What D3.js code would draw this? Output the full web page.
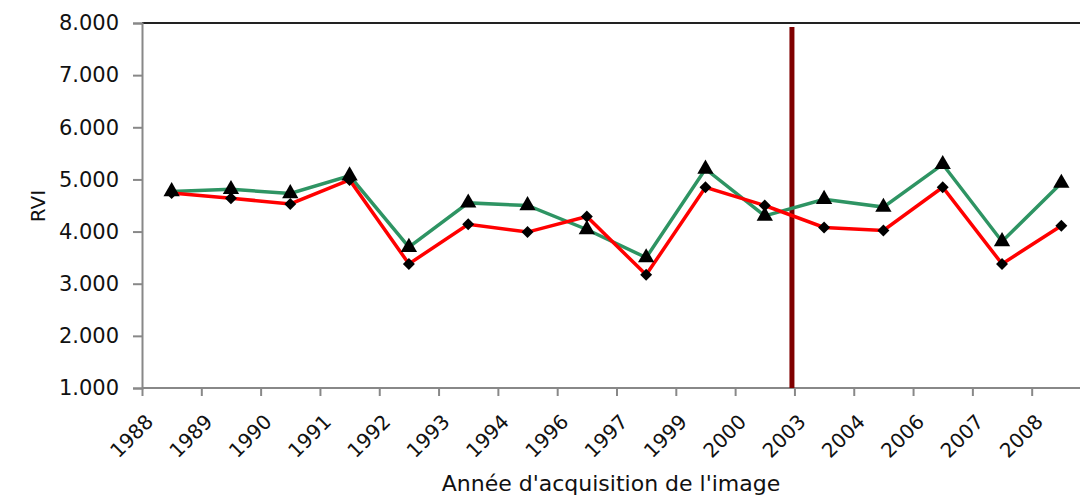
<!DOCTYPE html>
<html>
<head>
<meta charset="utf-8">
<script src="https://cdn.jsdelivr.net/npm/d3@7"></script>
<style>
  html, body { margin: 0; padding: 0; background: #fff; }
  svg { display: block; }
  text { font-family: "DejaVu Sans", Verdana, sans-serif; fill: #111; }
</style>
</head>
<body>
<svg id="chart" width="1080" height="497"></svg>
<script>
// Image acquisition years
const years = ["1988", "1989", "1990", "1991", "1992", "1993", "1994", "1996",
               "1997", "1999", "2000", "2003", "2004", "2006", "2007", "2008"];
// RVI series (triangle markers, green line)
const rviGreen = [4.77, 4.81, 4.73, 5.07, 3.70, 4.55, 4.50, 4.04,
                  3.50, 5.20, 4.30, 4.62, 4.47, 5.29, 3.81, 4.93];
// RVI series (diamond markers, red line)
const rviRed = [4.74, 4.64, 4.53, 4.99, 3.38, 4.14, 3.99, 4.29,
                3.17, 4.85, 4.50, 4.08, 4.02, 4.85, 3.38, 4.11];
// Value axis ticks
const yTicks = [1, 2, 3, 4, 5, 6, 7, 8];
// Year at which the separating line is drawn
const breakYear = "2003";

const svg = d3.select("#chart");
const plot = { left: 142, top: 23, bottom: 388, right: 1091 };

const x = d3.scaleBand().domain(years).range([plot.left, plot.right]);
const bw = x.bandwidth();
// Category labels sit on the band boundaries
const xEdge = d3.scalePoint().domain(years).range([plot.left, plot.left + bw * (years.length - 1)]);
const y = d3.scaleLinear().domain([1, 8]).range([plot.bottom, plot.top]);

// Top border of plot area
svg.append("line")
  .attr("x1", plot.left).attr("x2", 1080)
  .attr("y1", plot.top).attr("y2", plot.top)
  .attr("stroke", "#222").attr("stroke-width", 2);

// Y axis
const yAxis = svg.append("g")
  .attr("transform", `translate(${plot.left},0)`)
  .call(d3.axisLeft(y).tickValues(yTicks).tickFormat(d3.format(".3f")).tickSize(9).tickPadding(14));
yAxis.select(".domain").attr("stroke", "#888").attr("stroke-width", 2);
yAxis.selectAll(".tick line").attr("stroke", "#888").attr("stroke-width", 2);
yAxis.selectAll(".tick text").style("font-size", "21px").attr("fill", "#111");

// X axis
const xAxis = svg.append("g")
  .attr("transform", `translate(0,${plot.bottom})`)
  .call(d3.axisBottom(xEdge).tickSize(8).tickSizeOuter(0));
xAxis.select(".domain").attr("stroke", "#888").attr("stroke-width", 2)
  .attr("d", `M${plot.left},0H1080`);
xAxis.selectAll(".tick line").attr("stroke", "#888").attr("stroke-width", 2);
xAxis.selectAll(".tick text")
  .style("font-size", "20px").attr("fill", "#111")
  .attr("text-anchor", "end")
  .attr("y", 0)
  .attr("dy", "0")
  .attr("transform", "translate(12,35) rotate(-45)");

// Separator line
svg.append("line")
  .attr("x1", x(breakYear) - 2.5).attr("x2", x(breakYear) - 2.5)
  .attr("y1", 27).attr("y2", plot.bottom)
  .attr("stroke", "#800000").attr("stroke-width", 5);

const cx = d => x(d) + bw / 2;
const line = vals => d3.line().x((d, i) => cx(years[i])).y(d => y(d))(vals);

svg.append("path").attr("d", line(rviGreen))
  .attr("fill", "none").attr("stroke", "#2e9463").attr("stroke-width", 3.5);
svg.append("path").attr("d", line(rviRed))
  .attr("fill", "none").attr("stroke", "#ff0000").attr("stroke-width", 3.5);

svg.append("g").selectAll("path").data(rviGreen).join("path")
  .attr("d", d3.symbol(d3.symbolTriangle, 115)())
  .attr("transform", (d, i) => `translate(${cx(years[i])},${y(d)})`)
  .attr("fill", "#000");
svg.append("g").selectAll("path").data(rviRed).join("path")
  .attr("d", d3.symbol(d3.symbolSquare, 72)())
  .attr("transform", (d, i) => `translate(${cx(years[i])},${y(d)}) rotate(45)`)
  .attr("fill", "#000");

// Axis titles
svg.append("text")
  .attr("transform", `translate(45,206) rotate(-90)`)
  .attr("text-anchor", "middle")
  .style("font-size", "20px")
  .text("RVI");
svg.append("text")
  .attr("x", 611).attr("y", 491)
  .attr("text-anchor", "middle")
  .style("font-size", "22px")
  .text("Année d'acquisition de l'image");
</script>
</body>
</html>
